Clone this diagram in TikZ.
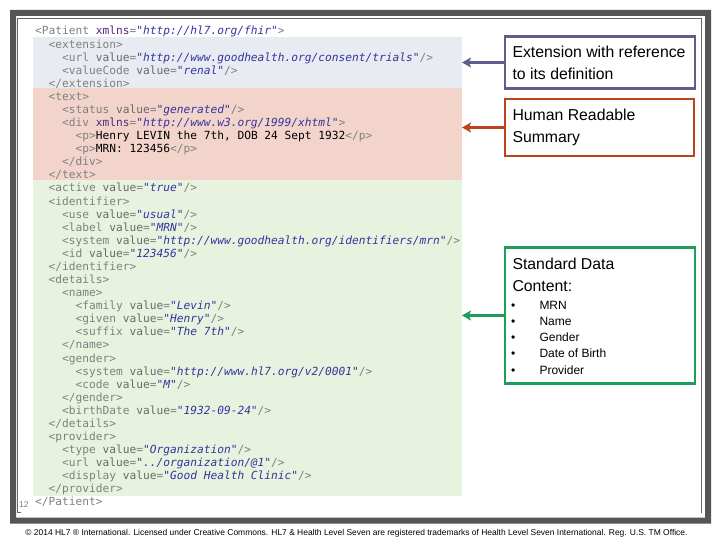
\documentclass[tikz,border=0pt]{standalone}
\usepackage{fontspec}
\setmainfont{Liberation Sans}
\newfontfamily\codefont{DejaVu Sans Mono}
\usetikzlibrary{arrows.meta}
\definecolor{framec}{RGB}{85,85,85}
\definecolor{thinc}{RGB}{100,100,100}
\definecolor{extbg}{RGB}{233,235,242}
\definecolor{txtbg}{RGB}{242,212,203}
\definecolor{grnbg}{RGB}{232,243,223}
\definecolor{tagc}{RGB}{128,128,128}
\definecolor{attc}{RGB}{105,105,105}
\definecolor{valc}{RGB}{52,52,158}
\definecolor{nsc}{RGB}{85,40,125}
\definecolor{boxa}{RGB}{94,94,138}
\definecolor{boxb}{RGB}{190,66,30}
\definecolor{boxc}{RGB}{30,158,88}
\newcommand\tg[1]{\textcolor{tagc}{#1}}
\newcommand\at[1]{\textcolor{attc}{#1}}
\newcommand\av[1]{\textcolor{valc}{\itshape #1}}
\newcommand\ns[1]{\textcolor{nsc}{#1}}
\tikzset{
  codeline/.style={anchor=base west, inner sep=0pt, font=\codefont\fontsize{11.2}{13}\selectfont},
  infobox/.style={draw=#1, line width=2.7pt, fill=white, inner sep=0pt, outer sep=0pt, anchor=north west},
  boxtext/.style={anchor=base west, inner sep=0pt, font=\fontsize{15.8}{18}\selectfont, text=black},
  itemtext/.style={anchor=base west, inner sep=0pt, font=\fontsize{12}{14}\selectfont, text=black},
  pointer/.style={draw=#1, line width=2.5pt, -{Stealth[length=9pt,width=10pt,inset=2pt]}},
}
\begin{document}
\begin{tikzpicture}[x=1pt,y=-1pt]
\useasboundingbox (0,0) rectangle (720,540);
% frame
\fill[framec, even odd rule] (10,10) rectangle (711,523.5) (16,16) rectangle (705,517.5);
\draw[thinc, line width=0.9pt] (20.5,512) -- (17.5,512) -- (17.5,18.5) -- (701.7,18.5) -- (701.7,512.5);
% code backgrounds
\fill[extbg] (33,37) rectangle (461.5,88);
\fill[txtbg] (33,88) rectangle (461.5,180.5);
\fill[grnbg] (33,180.5) rectangle (461.5,496);
% code lines
\def\lh{13.08}
\node[codeline] (l1) at (35, 35) {\tg{<Patient} \ns{xmlns}\tg{=}\av{"http://hl7.org/fhir"}\tg{>}};
\node[codeline] (l2) at (48.5, 35+1*\lh) {\tg{<extension>}};
\node[codeline] (l3) at (62, 35+2*\lh) {\tg{<url} \at{value}\tg{=}\av{"http://www.goodhealth.org/consent/trials"}\tg{/>}};
\node[codeline] (l4) at (62, 35+3*\lh) {\tg{<valueCode} \at{value}\tg{=}\av{"renal"}\tg{/>}};
\node[codeline] (l5) at (48.5, 35+4*\lh) {\tg{</extension>}};
\node[codeline] (l6) at (48.5, 35+5*\lh) {\tg{<text>}};
\node[codeline] (l7) at (62, 35+6*\lh) {\tg{<status} \at{value}\tg{=}\av{"generated"}\tg{/>}};
\node[codeline] (l8) at (62, 35+7*\lh) {\tg{<div} \ns{xmlns}\tg{=}\av{"http://www.w3.org/1999/xhtml"}\tg{>}};
\node[codeline] (l9) at (75.5, 35+8*\lh) {\tg{<p>}Henry LEVIN the 7th, DOB 24 Sept 1932\tg{</p>}};
\node[codeline] (l10) at (75.5, 35+9*\lh) {\tg{<p>}MRN: 123456\tg{</p>}};
\node[codeline] (l11) at (62, 35+10*\lh) {\tg{</div>}};
\node[codeline] (l12) at (48.5, 35+11*\lh) {\tg{</text>}};
\node[codeline] (l13) at (48.5, 35+12*\lh) {\tg{<active} \at{value}\tg{=}\av{"true"}\tg{/>}};
\node[codeline] (l14) at (48.5, 35+13*\lh) {\tg{<identifier>}};
\node[codeline] (l15) at (62, 35+14*\lh) {\tg{<use} \at{value}\tg{=}\av{"usual"}\tg{/>}};
\node[codeline] (l16) at (62, 35+15*\lh) {\tg{<label} \at{value}\tg{=}\av{"MRN"}\tg{/>}};
\node[codeline] (l17) at (62, 35+16*\lh) {\tg{<system} \at{value}\tg{=}\av{"http://www.goodhealth.org/identifiers/mrn"}\tg{/>}};
\node[codeline] (l18) at (62, 35+17*\lh) {\tg{<id} \at{value}\tg{=}\av{"123456"}\tg{/>}};
\node[codeline] (l19) at (48.5, 35+18*\lh) {\tg{</identifier>}};
\node[codeline] (l20) at (48.5, 35+19*\lh) {\tg{<details>}};
\node[codeline] (l21) at (62, 35+20*\lh) {\tg{<name>}};
\node[codeline] (l22) at (75.5, 35+21*\lh) {\tg{<family} \at{value}\tg{=}\av{"Levin"}\tg{/>}};
\node[codeline] (l23) at (75.5, 35+22*\lh) {\tg{<given} \at{value}\tg{=}\av{"Henry"}\tg{/>}};
\node[codeline] (l24) at (75.5, 35+23*\lh) {\tg{<suffix} \at{value}\tg{=}\av{"The 7th"}\tg{/>}};
\node[codeline] (l25) at (62, 35+24*\lh) {\tg{</name>}};
\node[codeline] (l26) at (62, 35+25*\lh) {\tg{<gender>}};
\node[codeline] (l27) at (75.5, 35+26*\lh) {\tg{<system} \at{value}\tg{=}\av{"http://www.hl7.org/v2/0001"}\tg{/>}};
\node[codeline] (l28) at (75.5, 35+27*\lh) {\tg{<code} \at{value}\tg{=}\av{"M"}\tg{/>}};
\node[codeline] (l29) at (62, 35+28*\lh) {\tg{</gender>}};
\node[codeline] (l30) at (62, 35+29*\lh) {\tg{<birthDate} \at{value}\tg{=}\av{"1932-09-24"}\tg{/>}};
\node[codeline] (l31) at (48.5, 35+30*\lh) {\tg{</details>}};
\node[codeline] (l32) at (48.5, 35+31*\lh) {\tg{<provider>}};
\node[codeline] (l33) at (62, 35+32*\lh) {\tg{<type} \at{value}\tg{=}\av{"Organization"}\tg{/>}};
\node[codeline] (l34) at (62, 35+33*\lh) {\tg{<url} \at{value}\tg{=}\av{"../organization/@1"}\tg{/>}};
\node[codeline] (l35) at (62, 35+34*\lh) {\tg{<display} \at{value}\tg{=}\av{"Good Health Clinic"}\tg{/>}};
\node[codeline] (l36) at (48.5, 35+35*\lh) {\tg{</provider>}};
\node[codeline] (l37) at (35, 35+36*\lh) {\tg{</Patient>}};
% slide number
\node[anchor=base west, inner sep=0pt, font=\fontsize{8.5}{10}\selectfont, text=tagc] (num) at (19,507) {12};
% boxes
\node[infobox=boxa, minimum width=190pt, minimum height=51.6pt] (bx1) at (505,36.7) {};
\node[boxtext] (t1a) at (512.3,57.3) {Extension with reference};
\node[boxtext] (t1b) at (512.3,79.3) {to its definition};
\node[infobox=boxb, minimum width=189pt, minimum height=57pt] (bx2) at (505,99) {};
\node[boxtext] (t2a) at (512.3,120.7) {Human Readable};
\node[boxtext] (t2b) at (512.3,142.5) {Summary};
\node[infobox=boxc, minimum width=190pt, minimum height=135.6pt] (bx3) at (505,247.7) {};
\node[boxtext] (t3a) at (512.3,269) {Standard Data};
\node[boxtext] (t3b) at (512.3,291) {Content:};
\node[itemtext] (i1) at (511,309) {\makebox[28.3pt][l]{•}MRN};
\node[itemtext] (i2) at (511,325.3) {\makebox[28.3pt][l]{•}Name};
\node[itemtext] (i3) at (511,341.6) {\makebox[28.3pt][l]{•}Gender};
\node[itemtext] (i4) at (511,357.9) {\makebox[28.3pt][l]{•}Date of Birth};
\node[itemtext] (i5) at (511,374.2) {\makebox[28.3pt][l]{•}Provider};
% arrows
\coordinate (p1) at (bx1.west -| 462,0);
\coordinate (p2) at (bx2.west -| 462,0);
\coordinate (p3) at (bx3.west -| 462,0);
\draw[pointer=boxa] (bx1.west) -- (p1);
\draw[pointer=boxb] (bx2.west) -- (p2);
\draw[pointer=boxc] (bx3.west) -- (p3);
% footer
\node[anchor=base, inner sep=0pt, font=\fontsize{8.45}{10}\selectfont, text=black] (foot) at (356.5,535) {© 2014 HL7 ® International. Licensed under Creative Commons. HL7 \& Health Level Seven are registered trademarks of Health Level Seven International. Reg. U.S. TM Office.};
\end{tikzpicture}
\end{document}
